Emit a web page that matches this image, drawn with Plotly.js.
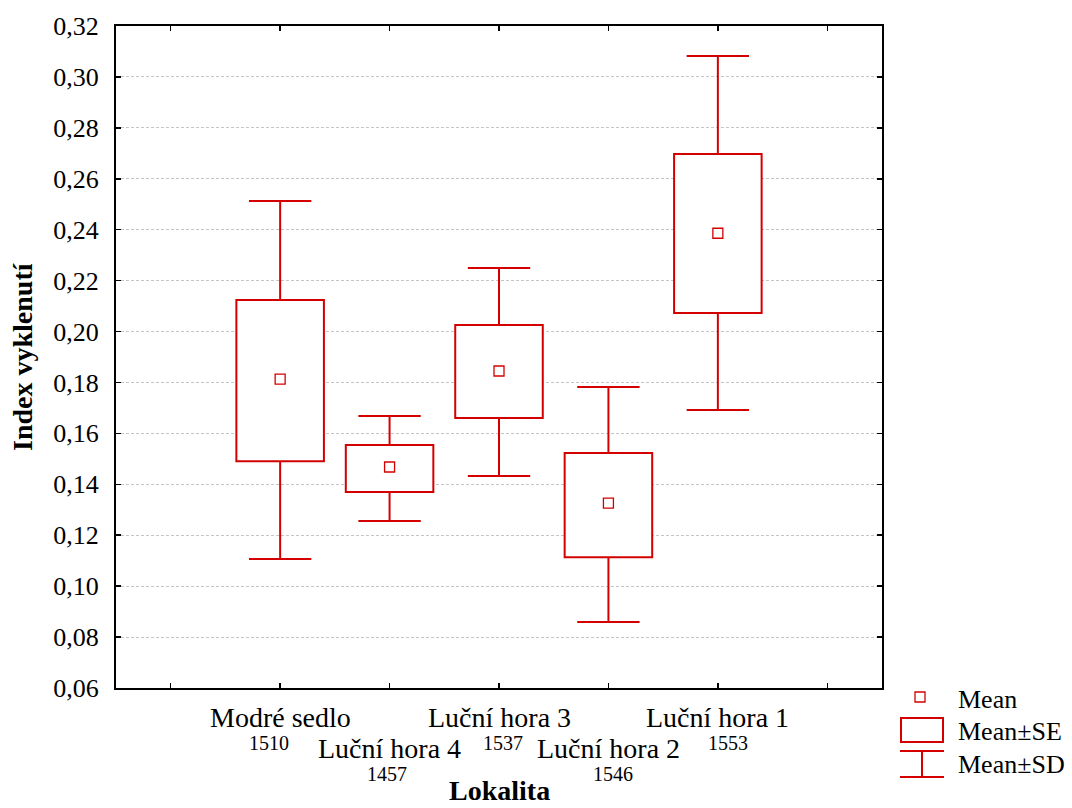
<!DOCTYPE html>
<html>
<head>
<meta charset="utf-8">
<script src="https://cdn.plot.ly/plotly-3.0.1.min.js"></script>
<style>
  html, body { margin: 0; padding: 0; background: #fff; }
  #chart { width: 1072px; height: 808px; }
</style>
</head>
<body>
<div id="chart"></div>
<script>
// Index vyklenutí by locality: mean, mean ± SE (box) and mean ± SD (whiskers)
const categories = ['Modré sedlo', 'Luční hora 4', 'Luční hora 3', 'Luční hora 2', 'Luční hora 1'];
const counts = [1510, 1457, 1537, 1546, 1553];
const means  = [0.1813, 0.1468, 0.1845, 0.1326, 0.2386];
const seLow  = [0.1491, 0.1370, 0.1660, 0.1114, 0.2073];
const seHigh = [0.2124, 0.1554, 0.2026, 0.1523, 0.2697];
const sdLow  = [0.1107, 0.1256, 0.1433, 0.0859, 0.1692];
const sdHigh = [0.2513, 0.1668, 0.2250, 0.1782, 0.3082];
const yTicks = [0.06, 0.08, 0.10, 0.12, 0.14, 0.16, 0.18, 0.20, 0.22, 0.24, 0.26, 0.28, 0.30, 0.32];

const RED = '#d40000';
const FONT = 'Liberation Serif, Times New Roman, serif';
const W = 1072, H = 808;
const M = { l: 116, r: 190, t: 26, b: 120 };
const plotW = W - M.l - M.r, plotH = H - M.t - M.b;
// pixel -> paper helpers for the legend and labels
const px = x => (x - M.l) / plotW;
const py = y => (H - M.b - y) / plotH;

// horizontal nudges (px) of the N labels under each category name
const countNudge = [-11, -3, 4, 5, 10];

const xs = categories.map((_, i) => i + 1);
const boxWidth = 0.8;
const capHalf = 0.285;

// SE boxes as floating bars
const seBoxes = {
  type: 'bar',
  x: xs,
  base: seLow,
  y: seHigh.map((v, i) => v - seLow[i]),
  width: boxWidth,
  marker: { color: '#ffffff', line: { color: RED, width: 2 } },
  showlegend: false,
  hoverinfo: 'skip'
};

// SD whiskers: stems from the box edges plus end caps
const wx = [], wy = [];
xs.forEach((x, i) => {
  wx.push(x, x, null, x, x, null, x - capHalf, x + capHalf, null, x - capHalf, x + capHalf, null);
  wy.push(seHigh[i], sdHigh[i], null, seLow[i], sdLow[i], null, sdHigh[i], sdHigh[i], null, sdLow[i], sdLow[i], null);
});
const sdWhiskers = {
  type: 'scatter', mode: 'lines',
  x: wx, y: wy,
  line: { color: RED, width: 2 },
  connectgaps: false,
  showlegend: false, hoverinfo: 'skip'
};

const meanPts = {
  type: 'scatter', mode: 'markers',
  x: xs, y: means,
  marker: { symbol: 'square-open', size: 10, color: RED, line: { color: RED, width: 1.3 } },
  showlegend: false, hoverinfo: 'skip'
};

const annotations = [];
categories.forEach((c, i) => {
  const row = i % 2;
  annotations.push({
    xref: 'x', yref: 'paper', x: xs[i], y: 0, yanchor: 'middle', xanchor: 'center',
    yshift: -(row ? 748 - 688 : 717 - 688),
    text: c, showarrow: false, font: { family: FONT, size: 28, color: '#000' }
  });
  annotations.push({
    xref: 'x', yref: 'paper', x: xs[i], y: 0, yanchor: 'middle', xanchor: 'center',
    xshift: countNudge[i],
    yshift: -(row ? 774 - 688 : 743 - 688),
    text: String(counts[i]), showarrow: false, font: { family: FONT, size: 20, color: '#000' }
  });
});

// axis titles
annotations.push({
  xref: 'paper', yref: 'paper', x: 0.5, y: 0, xanchor: 'center', yanchor: 'bottom',
  yshift: -M.b,
  text: '<b>Lokalita</b>', showarrow: false, font: { family: FONT, size: 28, color: '#000' }
});
annotations.push({
  xref: 'paper', yref: 'paper', x: px(22), y: 0.5, xanchor: 'center', yanchor: 'middle',
  textangle: -90, text: '<b>Index vyklenutí</b>', showarrow: false,
  font: { family: FONT, size: 28, color: '#000' }
});

// legend entries
const legendItems = [['Mean', 699], ['Mean±SE', 731], ['Mean±SD', 764]];
legendItems.forEach(([t, y]) => annotations.push({
  xref: 'paper', yref: 'paper', x: px(956), y: py(y), xanchor: 'left', yanchor: 'middle',
  text: t, showarrow: false, font: { family: FONT, size: 26, color: '#000' }
}));

const shapes = [
  { type: 'rect', xref: 'paper', yref: 'paper', x0: px(915), x1: px(925), y0: py(702), y1: py(692),
    line: { color: RED, width: 1.3 }, fillcolor: 'rgba(0,0,0,0)' },
  { type: 'rect', xref: 'paper', yref: 'paper', x0: px(901), x1: px(943), y0: py(742), y1: py(718),
    line: { color: RED, width: 2 }, fillcolor: '#fff' },
  { type: 'line', xref: 'paper', yref: 'paper', x0: px(900), x1: px(944), y0: py(751), y1: py(751),
    line: { color: RED, width: 2 } },
  { type: 'line', xref: 'paper', yref: 'paper', x0: px(900), x1: px(944), y0: py(777), y1: py(777),
    line: { color: RED, width: 2 } },
  { type: 'line', xref: 'paper', yref: 'paper', x0: px(922), x1: px(922), y0: py(751), y1: py(777),
    line: { color: RED, width: 2 } }
];

const layout = {
  width: W, height: H,
  margin: M,
  paper_bgcolor: '#fff', plot_bgcolor: '#fff',
  separators: ',.',
  showlegend: false,
  hovermode: false,
  font: { family: FONT, size: 26, color: '#000' },
  xaxis: {
    range: [-0.5, 6.5],
    tickmode: 'array', tickvals: [0, 1, 2, 3, 4, 5, 6], ticktext: ['', '', '', '', '', '', ''],
    ticks: 'inside', ticklen: 5, tickwidth: 1.5, tickcolor: '#000',
    showgrid: false, zeroline: false,
    showline: true, linecolor: '#000', linewidth: 2, mirror: 'ticks',
    fixedrange: true
  },
  yaxis: {
    range: [0.06, 0.32],
    tickmode: 'array', tickvals: yTicks, tickformat: '.2f',
    ticks: 'inside', ticklen: 5, tickwidth: 1.5, tickcolor: '#000',
    tickfont: { family: FONT, size: 26, color: '#000' },
    ticklabelstandoff: 10,
    showgrid: true, gridcolor: '#c4c4c4', gridwidth: 1, griddash: '3px,2px',
    zeroline: false,
    showline: true, linecolor: '#000', linewidth: 2, mirror: 'ticks',
    fixedrange: true
  },
  annotations: annotations,
  shapes: shapes
};

Plotly.newPlot('chart', [seBoxes, sdWhiskers, meanPts], layout, { displayModeBar: false, staticPlot: true });
</script>
</body>
</html>
